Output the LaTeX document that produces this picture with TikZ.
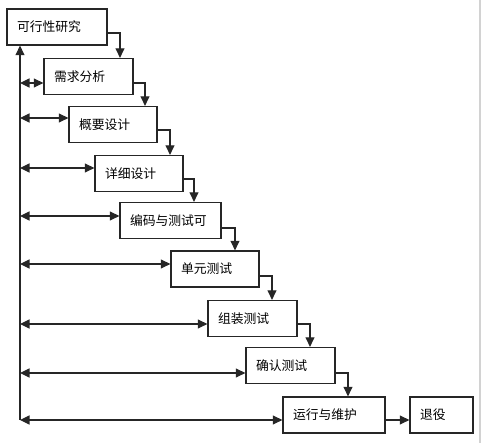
\documentclass[tikz,border=0pt]{standalone}
\usepackage{fontspec}
\newfontfamily\cjk{Noto Sans CJK SC}
\usetikzlibrary{arrows.meta,positioning}
\definecolor{ink}{HTML}{262626}
\definecolor{rim}{HTML}{D2D2D2}
\tikzset{stagebox/.style={draw=ink,line width=1.3pt,minimum height=36pt,inner xsep=10pt,inner ysep=0pt,text width=#1,align=left,font=\cjk\fontsize{12.8}{14}\selectfont},stagebox/.default=68pt,flowline/.style={draw=ink,line width=1.1pt,-{Triangle[length=9.5pt,width=9pt]}},busline/.style={draw=ink,line width=1.1pt,{Triangle[length=9.5pt,width=9pt]}-{Triangle[length=9.5pt,width=9pt]}}}

\begin{document}
\begin{tikzpicture}[x=1pt,y=-1pt]
\useasboundingbox (0,0) rectangle (483,443);
\draw[rim,line width=2.5pt] (480,0)--(480,443);
% stages
\node[stagebox=80pt] (b1) at (57,27) {可行性研究};
\node[stagebox=69pt] (b2) at (88.5,76.5) {需求分析};
\node[stagebox] (b3) at (113,124.5) {概要设计};
\node[stagebox] (b4) at (139,173.5) {详细设计};
\node[stagebox=81pt] (b5) at (170.5,220.5) {编码与测试可};
\node[stagebox] (b6) at (215,269) {单元测试};
\node[stagebox=69pt] (b7) at (252.5,318.5) {组装测试};
\node[stagebox=69pt] (b8) at (290.5,365.5) {确认测试};
\node[stagebox=82pt] (b9) at (334,415) {运行与维护};
\node[stagebox=43pt] (b10) at (441.5,415) {退役};
% waterfall steps
\draw[flowline] (b1.east |- 0,33) -| (b2.north -| 120,0);
\draw[flowline] (b2.east |- 0,83) -| (b3.north -| 145,0);
\draw[flowline] (b3.east |- 0,130) -| (b4.north -| 170,0);
\draw[flowline] (b4.east |- 0,179) -| (b5.north -| 194,0);
\draw[flowline] (b5.east |- 0,228) -| (b6.north -| 235,0);
\draw[flowline] (b6.east |- 0,276) -| (b7.north -| 272,0);
\draw[flowline] (b7.east |- 0,324) -| (b8.north -| 310,0);
\draw[flowline] (b8.east |- 0,373) -| (b9.north -| 348,0);
\draw[flowline] (b9.east |- 0,420) -- (b10.west |- 0,420);
% feedback bus
\coordinate (bus2) at (20,83);\coordinate (bus3) at (20,118);
\coordinate (bus4) at (20,168);\coordinate (bus5) at (20,216);
\coordinate (bus6) at (20,264);\coordinate (bus7) at (20,324);
\coordinate (bus8) at (20,373);\coordinate (bus9) at (20,420);
\draw[flowline] (bus9) -- (b1.south -| bus9);
\draw[busline] (bus2) -- (bus2 -| b2.west);\draw[busline] (bus3) -- (bus3 -| b3.west);
\draw[busline] (bus4) -- (bus4 -| b4.west);\draw[busline] (bus5) -- (bus5 -| b5.west);
\draw[busline] (bus6) -- (bus6 -| b6.west);\draw[busline] (bus7) -- (bus7 -| b7.west);
\draw[busline] (bus8) -- (bus8 -| b8.west);\draw[busline] (bus9) -- (bus9 -| b9.west);
\end{tikzpicture}
\end{document}
